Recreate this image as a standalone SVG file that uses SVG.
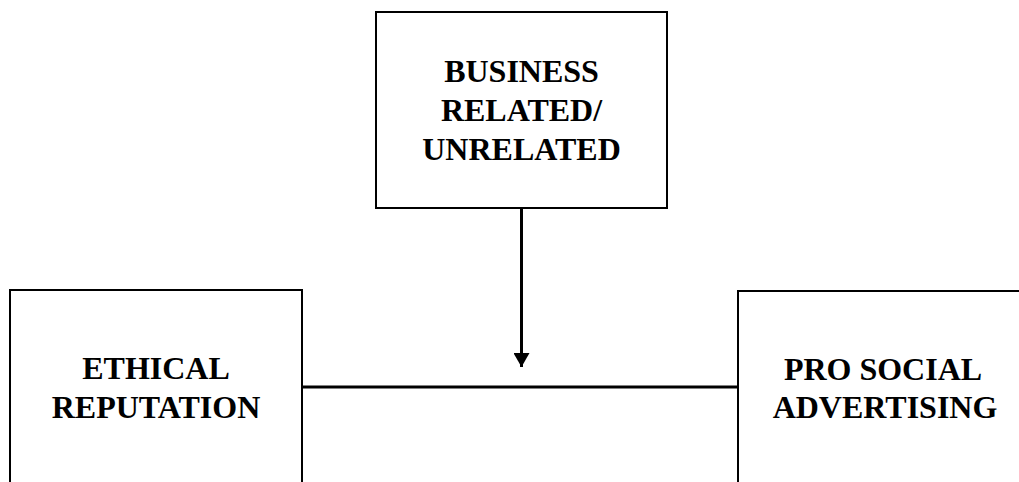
<svg xmlns="http://www.w3.org/2000/svg" width="1019" height="482" viewBox="0 0 1019 482">
<style>
.box{fill:#fff;stroke:#000;stroke-width:2}
.lbl{font-family:"Liberation Serif","Times New Roman",serif;font-weight:bold;font-size:32px;fill:#000;text-anchor:middle}
.conn{stroke:#000;stroke-width:3;fill:none}
</style>
<defs>
<marker id="arr" markerUnits="userSpaceOnUse" markerWidth="16" markerHeight="16" refX="14" refY="8" orient="auto">
<path d="M0,0 L14,8 L0,16 Z" fill="#000"/>
</marker>
</defs>
<rect width="1019" height="482" fill="#fff"/>
<g id="business">
<rect class="box" x="376" y="12" width="291" height="196"/>
<text class="lbl" x="521.5" y="82">BUSINESS</text>
<text class="lbl" x="521.5" y="121">RELATED/</text>
<text class="lbl" x="521.5" y="160">UNRELATED</text>
</g>
<g id="ethical">
<rect class="box" x="10" y="290" width="292" height="200"/>
<text class="lbl" x="156" y="379">ETHICAL</text>
<text class="lbl" x="156" y="418">REPUTATION</text>
</g>
<g id="prosocial">
<rect class="box" x="738" y="291" width="300" height="200"/>
<text class="lbl" x="883" y="380">PRO SOCIAL</text>
<text class="lbl" x="885" y="418">ADVERTISING</text>
</g>
<g id="connectors">
<line class="conn" x1="303" y1="387" x2="737" y2="387"/>
<line class="conn" x1="521.5" y1="209" x2="521.5" y2="367" marker-end="url(#arr)"/>
</g>
</svg>
